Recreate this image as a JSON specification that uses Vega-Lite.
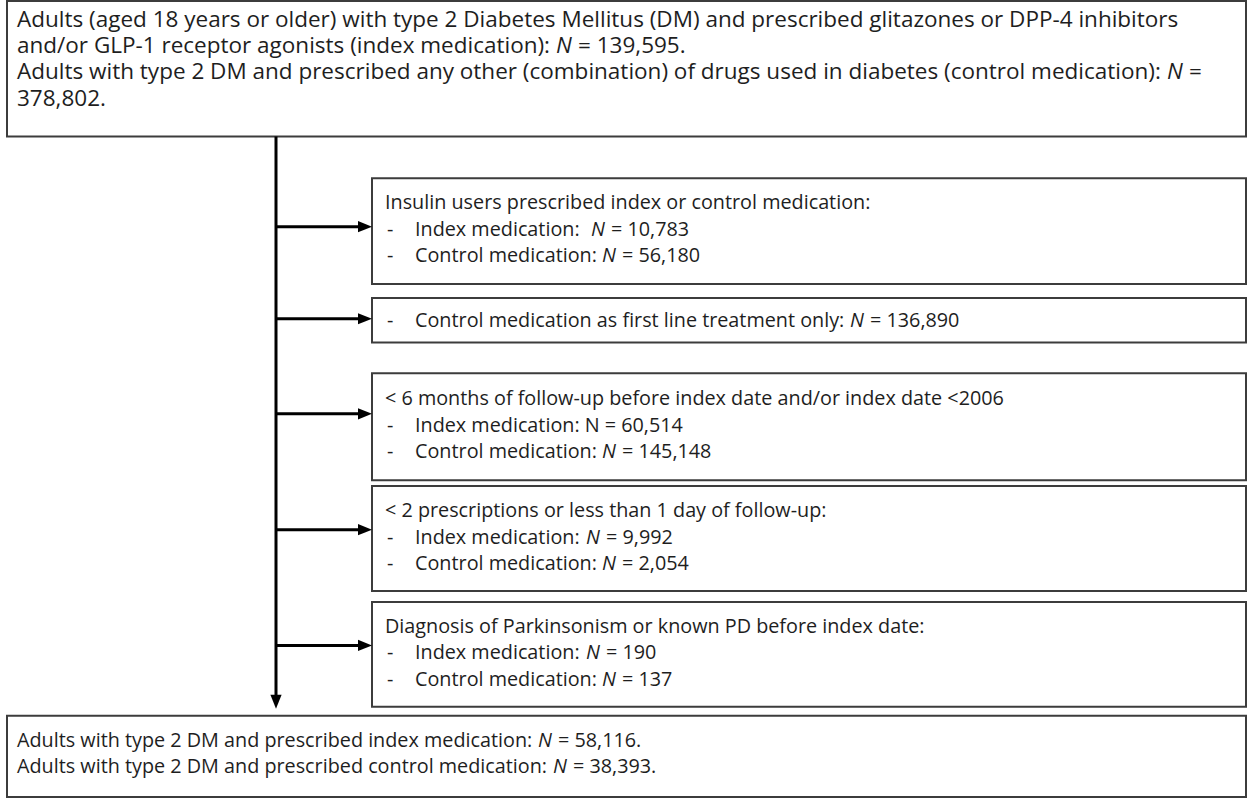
{
  "$schema": "https://vega.github.io/schema/vega-lite/v6.json",
  "autosize": {"type": "fit", "contains": "padding"},
  "width": 1248,
  "height": 798,
  "padding": 0,
  "background": "white",
  "config": {"view": {"stroke": null}},
  "datasets": {
    "boxes": [
      {"id": "top", "x": 7, "x2": 1246, "y": 1, "y2": 138},
      {"id": "b1", "x": 372, "x2": 1246, "y": 180, "y2": 287},
      {"id": "b2", "x": 372, "x2": 1246, "y": 301, "y2": 346},
      {"id": "b3", "x": 372, "x2": 1246, "y": 377, "y2": 485},
      {"id": "b4", "x": 372, "x2": 1246, "y": 491, "y2": 597},
      {"id": "b5", "x": 372, "x2": 1246, "y": 608, "y2": 714},
      {"id": "bottom", "x": 7, "x2": 1246, "y": 723, "y2": 805}
    ],
    "rules": [
      {"x": 276, "x2": 276, "y": 138, "y2": 704},
      {"x": 276, "x2": 360, "y": 229, "y2": 229},
      {"x": 276, "x2": 360, "y": 322, "y2": 322},
      {"x": 276, "x2": 360, "y": 418, "y2": 418},
      {"x": 276, "x2": 360, "y": 535, "y2": 535},
      {"x": 276, "x2": 360, "y": 652, "y2": 652}
    ],
    "headsRight": [
      {"x": 372, "y": 229},
      {"x": 372, "y": 322},
      {"x": 372, "y": 418},
      {"x": 372, "y": 535},
      {"x": 372, "y": 652}
    ],
    "headsDown": [
      {"x": 276, "y": 716}
    ],
    "texts": [
      {"box": "top", "part": "text", "x": 17, "y": 20, "text": "Adults (aged 18 years or older) with type 2 Diabetes Mellitus (DM) and prescribed glitazones or DPP-4 inhibitors"},
      {"box": "top", "part": "text", "x": 17, "y": 46.5, "text": "and/or GLP-1 receptor agonists (index medication):"},
      {"box": "top", "part": "N", "x": 556, "y": 46.5, "text": "N"},
      {"box": "top", "part": "text", "x": 578, "y": 46.5, "text": "= 139,595."},
      {"box": "top", "part": "text", "x": 17, "y": 73, "text": "Adults with type 2 DM and prescribed any other (combination) of drugs used in diabetes (control medication):"},
      {"box": "top", "part": "N", "x": 1167, "y": 73, "text": "N"},
      {"box": "top", "part": "text", "x": 1189, "y": 73, "text": "="},
      {"box": "top", "part": "text", "x": 17, "y": 99.5, "text": "378,802."},

      {"box": "b1", "part": "text", "x": 385, "y": 205, "text": "Insulin users prescribed index or control medication:"},
      {"box": "b1", "part": "text", "x": 387, "y": 232, "text": "-"},
      {"box": "b1", "part": "text", "x": 415, "y": 232, "text": "Index medication:"},
      {"box": "b1", "part": "N", "x": 591, "y": 232, "text": "N"},
      {"box": "b1", "part": "text", "x": 611, "y": 232, "text": "= 10,783"},
      {"box": "b1", "part": "text", "x": 387, "y": 259, "text": "-"},
      {"box": "b1", "part": "text", "x": 415, "y": 259, "text": "Control medication:"},
      {"box": "b1", "part": "N", "x": 602, "y": 259, "text": "N"},
      {"box": "b1", "part": "text", "x": 622, "y": 259, "text": "= 56,180"},

      {"box": "b2", "part": "text", "x": 387, "y": 324, "text": "-"},
      {"box": "b2", "part": "text", "x": 415, "y": 324, "text": "Control medication as first line treatment only:"},
      {"box": "b2", "part": "N", "x": 850, "y": 324, "text": "N"},
      {"box": "b2", "part": "text", "x": 870, "y": 324, "text": "= 136,890"},

      {"box": "b3", "part": "text", "x": 385, "y": 403, "text": "< 6 months of follow-up before index date and/or index date <2006"},
      {"box": "b3", "part": "text", "x": 387, "y": 430, "text": "-"},
      {"box": "b3", "part": "text", "x": 415, "y": 430, "text": "Index medication: N = 60,514"},
      {"box": "b3", "part": "text", "x": 387, "y": 457, "text": "-"},
      {"box": "b3", "part": "text", "x": 415, "y": 457, "text": "Control medication:"},
      {"box": "b3", "part": "N", "x": 602, "y": 457, "text": "N"},
      {"box": "b3", "part": "text", "x": 622, "y": 457, "text": "= 145,148"},

      {"box": "b4", "part": "text", "x": 385, "y": 516, "text": "< 2 prescriptions or less than 1 day of follow-up:"},
      {"box": "b4", "part": "text", "x": 387, "y": 543, "text": "-"},
      {"box": "b4", "part": "text", "x": 415, "y": 543, "text": "Index medication:"},
      {"box": "b4", "part": "N", "x": 586, "y": 543, "text": "N"},
      {"box": "b4", "part": "text", "x": 606, "y": 543, "text": "= 9,992"},
      {"box": "b4", "part": "text", "x": 387, "y": 570, "text": "-"},
      {"box": "b4", "part": "text", "x": 415, "y": 570, "text": "Control medication:"},
      {"box": "b4", "part": "N", "x": 602, "y": 570, "text": "N"},
      {"box": "b4", "part": "text", "x": 622, "y": 570, "text": "= 2,054"},

      {"box": "b5", "part": "text", "x": 385, "y": 633, "text": "Diagnosis of Parkinsonism or known PD before index date:"},
      {"box": "b5", "part": "text", "x": 387, "y": 660, "text": "-"},
      {"box": "b5", "part": "text", "x": 415, "y": 660, "text": "Index medication:"},
      {"box": "b5", "part": "N", "x": 586, "y": 660, "text": "N"},
      {"box": "b5", "part": "text", "x": 606, "y": 660, "text": "= 190"},
      {"box": "b5", "part": "text", "x": 387, "y": 687, "text": "-"},
      {"box": "b5", "part": "text", "x": 415, "y": 687, "text": "Control medication:"},
      {"box": "b5", "part": "N", "x": 602, "y": 687, "text": "N"},
      {"box": "b5", "part": "text", "x": 622, "y": 687, "text": "= 137"},

      {"box": "bottom", "part": "text", "x": 17, "y": 748, "text": "Adults with type 2 DM and prescribed index medication:"},
      {"box": "bottom", "part": "N", "x": 538, "y": 748, "text": "N"},
      {"box": "bottom", "part": "text", "x": 558, "y": 748, "text": "= 58,116."},
      {"box": "bottom", "part": "text", "x": 17, "y": 775, "text": "Adults with type 2 DM and prescribed control medication:"},
      {"box": "bottom", "part": "N", "x": 553, "y": 775, "text": "N"},
      {"box": "bottom", "part": "text", "x": 573, "y": 775, "text": "= 38,393."}
    ]
  },
  "layer": [
    {
      "data": {"name": "boxes"},
      "mark": {"type": "rect", "fill": "white", "stroke": "#3c3c3c", "strokeWidth": 2},
      "encoding": {
        "x": {"field": "x", "type": "quantitative", "scale": {"domain": [0, 1248], "nice": false, "zero": false}, "axis": null},
        "x2": {"field": "x2"},
        "y": {"field": "y", "type": "quantitative", "scale": {"domain": [0, 798], "nice": false, "zero": false, "reverse": true}, "axis": null},
        "y2": {"field": "y2"}
      }
    },
    {
      "data": {"name": "rules"},
      "mark": {"type": "rule", "stroke": "#000000", "strokeWidth": 3},
      "encoding": {
        "x": {"field": "x", "type": "quantitative", "scale": {"domain": [0, 1248], "nice": false, "zero": false}, "axis": null},
        "x2": {"field": "x2"},
        "y": {"field": "y", "type": "quantitative", "scale": {"domain": [0, 798], "nice": false, "zero": false, "reverse": true}, "axis": null},
        "y2": {"field": "y2"}
      }
    },
    {
      "data": {"name": "headsRight"},
      "mark": {"type": "point", "shape": "M0,0L-2,-0.8L-2,0.8Z", "size": 196, "filled": true, "fill": "#000000", "stroke": null, "opacity": 1},
      "encoding": {
        "x": {"field": "x", "type": "quantitative", "scale": {"domain": [0, 1248], "nice": false, "zero": false}, "axis": null},
        "y": {"field": "y", "type": "quantitative", "scale": {"domain": [0, 798], "nice": false, "zero": false, "reverse": true}, "axis": null}
      }
    },
    {
      "data": {"name": "headsDown"},
      "mark": {"type": "point", "shape": "M0,0L-0.8,-2L0.8,-2Z", "size": 196, "filled": true, "fill": "#000000", "stroke": null, "opacity": 1},
      "encoding": {
        "x": {"field": "x", "type": "quantitative", "scale": {"domain": [0, 1248], "nice": false, "zero": false}, "axis": null},
        "y": {"field": "y", "type": "quantitative", "scale": {"domain": [0, 798], "nice": false, "zero": false, "reverse": true}, "axis": null}
      }
    },
    {
      "data": {"name": "texts"},
      "transform": [{"filter": "datum.box === 'top' && datum.part === 'text'"}],
      "mark": {"type": "text", "align": "left", "baseline": "middle", "font": "Open Sans", "fontSize": 22.5, "fill": "#1e1e1e"},
      "encoding": {
        "x": {"field": "x", "type": "quantitative", "scale": {"domain": [0, 1248], "nice": false, "zero": false}, "axis": null},
        "y": {"field": "y", "type": "quantitative", "scale": {"domain": [0, 798], "nice": false, "zero": false, "reverse": true}, "axis": null},
        "text": {"field": "text", "type": "nominal"}
      }
    },
    {
      "data": {"name": "texts"},
      "transform": [{"filter": "datum.box === 'top' && datum.part === 'N'"}],
      "mark": {"type": "text", "align": "left", "baseline": "middle", "font": "Open Sans", "fontStyle": "italic", "fontSize": 22.5, "fill": "#1e1e1e"},
      "encoding": {
        "x": {"field": "x", "type": "quantitative", "scale": {"domain": [0, 1248], "nice": false, "zero": false}, "axis": null},
        "y": {"field": "y", "type": "quantitative", "scale": {"domain": [0, 798], "nice": false, "zero": false, "reverse": true}, "axis": null},
        "text": {"field": "text", "type": "nominal"}
      }
    },
    {
      "data": {"name": "texts"},
      "transform": [{"filter": "datum.box !== 'top' && datum.part === 'text'"}],
      "mark": {"type": "text", "align": "left", "baseline": "middle", "font": "Open Sans", "fontSize": 19.8, "fill": "#1e1e1e"},
      "encoding": {
        "x": {"field": "x", "type": "quantitative", "scale": {"domain": [0, 1248], "nice": false, "zero": false}, "axis": null},
        "y": {"field": "y", "type": "quantitative", "scale": {"domain": [0, 798], "nice": false, "zero": false, "reverse": true}, "axis": null},
        "text": {"field": "text", "type": "nominal"}
      }
    },
    {
      "data": {"name": "texts"},
      "transform": [{"filter": "datum.box !== 'top' && datum.part === 'N'"}],
      "mark": {"type": "text", "align": "left", "baseline": "middle", "font": "Open Sans", "fontStyle": "italic", "fontSize": 19.8, "fill": "#1e1e1e"},
      "encoding": {
        "x": {"field": "x", "type": "quantitative", "scale": {"domain": [0, 1248], "nice": false, "zero": false}, "axis": null},
        "y": {"field": "y", "type": "quantitative", "scale": {"domain": [0, 798], "nice": false, "zero": false, "reverse": true}, "axis": null},
        "text": {"field": "text", "type": "nominal"}
      }
    }
  ]
}
